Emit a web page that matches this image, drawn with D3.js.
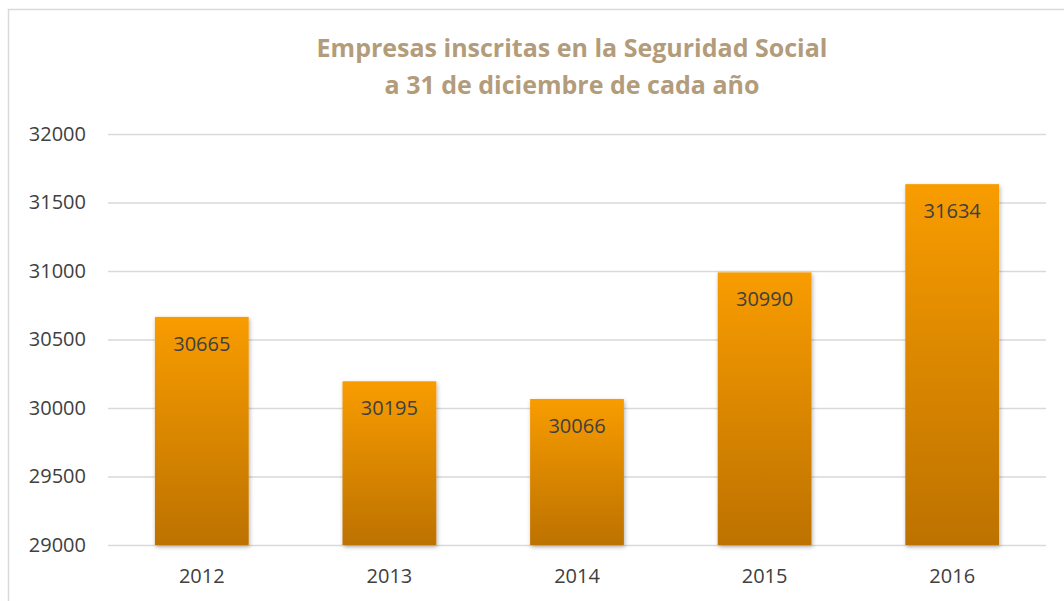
<!DOCTYPE html>
<html><head><meta charset="utf-8">
<script src="https://cdn.jsdelivr.net/npm/d3@7"></script>
<style>body{margin:0;background:#fff;} svg{display:block;}</style>
</head><body>
<svg id="c" width="1064" height="601"></svg>
<script>
const categories = ["2012", "2013", "2014", "2015", "2016"];
const values = [30665, 30195, 30066, 30990, 31634];
const yTicks = [29000, 29500, 30000, 30500, 31000, 31500, 32000];
const titleLines = ["Empresas inscritas en la Seguridad Social", "a 31 de diciembre de cada año"];

const svg = d3.select("#c");
const W = 1064, H = 601;
const m = {left: 108, right: 1046, top: 134, bottom: 545};
const font = "'Open Sans', 'Noto Sans', sans-serif";

// border
svg.append("path").attr("d", `M8.5,${H} V9.5 H${W}`).attr("fill", "none").attr("stroke", "#d9d9d9").attr("stroke-width", 1.5);

const defs = svg.append("defs");
const g = defs.append("linearGradient").attr("id", "bg").attr("x1", 0).attr("y1", 0).attr("x2", 0).attr("y2", 1);
g.append("stop").attr("offset", "0%").attr("stop-color", "#f89c04");
g.append("stop").attr("offset", "100%").attr("stop-color", "#bd7200");
const f = defs.append("filter").attr("id", "sh").attr("x", "-20%").attr("y", "-10%").attr("width", "140%").attr("height", "120%");
f.append("feDropShadow").attr("dx", 1).attr("dy", 2).attr("stdDeviation", 2).attr("flood-color", "#000").attr("flood-opacity", 0.3);

const x = d3.scaleBand().domain(categories).range([m.left, m.right]).paddingInner(0.5).paddingOuter(0.25);
const y = d3.scaleLinear().domain([29000, 32000]).range([m.bottom, m.top]);

// title
svg.append("text").attr("x", 572).attr("y", 0).attr("text-anchor", "middle")
  .attr("font-family", font).attr("font-weight", "bold").attr("font-size", 25).attr("fill", "#b39c7b")
  .selectAll("tspan").data(titleLines).join("tspan")
  .attr("x", 572).attr("y", (d, i) => 57 + i * 37).text(d => d);

// grid
const yAxis = d3.axisLeft(y).tickValues(yTicks).tickSize(m.left - m.right).tickFormat(d3.format("d")).tickPadding(22);
const ga = svg.append("g").attr("transform", `translate(${m.left},0)`).call(yAxis);
ga.select(".domain").remove();
ga.selectAll("line").attr("stroke", "#d9d9d9").attr("stroke-width", 1.5);
ga.selectAll("text").attr("font-family", font).attr("font-size", 20).attr("fill", "#404040");

// bars
svg.selectAll("rect.bar").data(values).join("rect").attr("class", "bar")
  .attr("x", (d, i) => x(categories[i])).attr("width", x.bandwidth())
  .attr("y", d => y(d)).attr("height", d => y(29000) - y(d))
  .attr("fill", "url(#bg)").attr("filter", "url(#sh)");

// data labels
svg.selectAll("text.lbl").data(values).join("text").attr("class", "lbl")
  .attr("x", (d, i) => x(categories[i]) + x.bandwidth() / 2).attr("y", d => y(d) + 34)
  .attr("text-anchor", "middle").attr("font-family", font).attr("font-size", 20).attr("fill", "#404040")
  .text(d => d);

// x axis
const xAxis = d3.axisBottom(x).tickSize(0).tickPadding(24);
const gx = svg.append("g").attr("transform", `translate(0,${m.bottom})`).call(xAxis);
gx.select(".domain").remove();
gx.selectAll("text").attr("font-family", font).attr("font-size", 20).attr("fill", "#404040");
</script>
</body></html>
